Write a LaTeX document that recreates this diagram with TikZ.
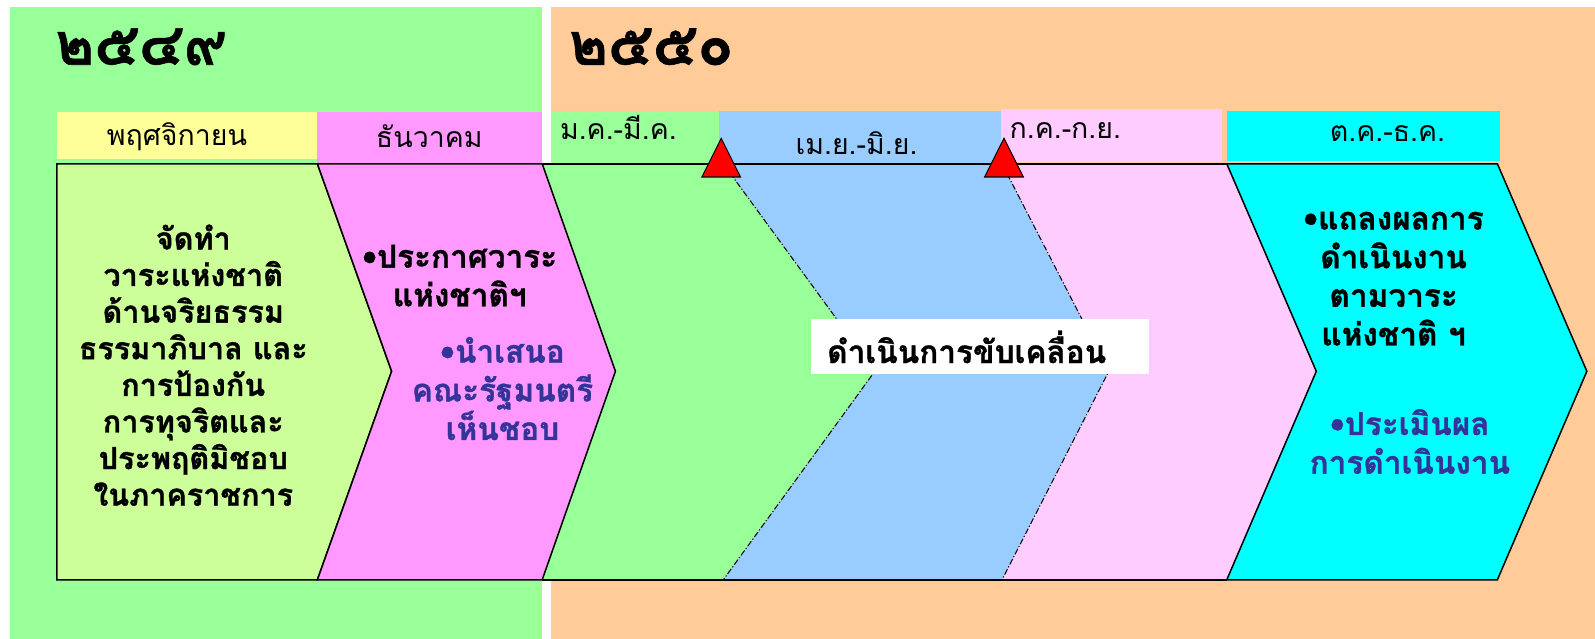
\documentclass[tikz,border=0pt]{standalone}
\usepackage{fontspec}
\usepackage{tikz}
\newfontfamily\thaifont[Script=Thai,BoldFeatures={FakeBold=1}]{Loma}
\definecolor{bggreen}{HTML}{99FF99}
\definecolor{bgorange}{HTML}{FFCC99}
\definecolor{hyellow}{HTML}{FFFF99}
\definecolor{zlime}{HTML}{CCFF99}
\definecolor{hpink}{HTML}{FF99FF}
\definecolor{hblue}{HTML}{99CCFF}
\definecolor{hlpink}{HTML}{FFCCFF}
\definecolor{hcyan}{HTML}{00FFFF}
\definecolor{txtblue}{HTML}{333399}

\begin{document}
\begin{tikzpicture}[x=1pt,y=-1pt,
    year/.style={font=\thaifont\bfseries\fontsize{58}{60}\selectfont},
    month/.style={font=\thaifont\fontsize{28}{30}\selectfont},
    bodytext/.style={font=\thaifont\bfseries\fontsize{31}{38}\selectfont,align=center},
    bluetext/.style={bodytext,text=txtblue},
    border/.style={draw=black,line width=1.5pt},
    divide/.style={draw=black,line width=1pt,dash pattern=on 6pt off 2pt on 1.2pt off 2pt},
    marker/.style={fill=red,draw=black,line width=1pt,line join=miter}]
    \useasboundingbox (0,0) rectangle (1568,628);
    \fill[bggreen] (10,7) rectangle (533,628);
    \fill[bgorange] (542,7) rectangle (1568,628);
    \draw (51,46) node[year,anchor=west](y2549) {๒๕๔๙};
    \draw (556,46) node[year,anchor=west](y2550) {๒๕๕๐};
    \fill[hyellow] (56,110) rectangle (312,156);
    \fill[hpink] (312,110) rectangle (533,161);
    \fill[bggreen] (543,109) rectangle (707,161);
    \fill[hblue] (707,109) rectangle (984,161);
    \fill[hlpink] (984,107) rectangle (1201,159);
    \fill[hcyan] (1206,109) rectangle (1475,158);
    \draw (174,134) node[month](nov) {พฤศจิกายน};
    \draw (422,134) node[month](dec) {ธันวาคม};
    \draw (547,125) node[month,anchor=west](q1) {ม.ค.-มี.ค.};
    \draw (842,141) node[month](q2) {เม.ย.-มิ.ย.};
    \draw (989,128) node[month,anchor=west](q3) {ก.ค.-ก.ย.};
    \draw (1364,131) node[month](q4) {ต.ค.-ธ.ค.};
    \fill[bggreen] (533,161) -- (711,161) -- (860,365) -- (711,570) -- (533,570) -- (605,365) -- cycle;
    \fill[hblue] (711,161) -- (985,161) -- (1090,365) -- (985,570) -- (711,570) -- (860,365) -- cycle;
    \fill[hlpink] (985,161) -- (1206,161) -- (1294,365) -- (1206,570) -- (985,570) -- (1090,365) -- cycle;
    \draw[divide] (711,161) -- (860,365) -- (711,570);
    \draw[divide] (985,161) -- (1090,365) -- (985,570);
    \draw[border,fill=zlime] (56,161) -- (312,161) -- (385,365) -- (312,570) -- (56,570) -- cycle;
    \draw[border,fill=hpink] (312,161) -- (533,161) -- (605,365) -- (533,570) -- (312,570) -- (385,365) -- cycle;
    \draw[border,fill=hcyan] (1206,161) -- (1472,161) -- (1560,365) -- (1472,570) -- (1206,570) -- (1294,365) -- cycle;
    \draw[border] (533,161) -- (1206,161);
    \draw[border] (533,570) -- (1206,570);
    \draw[marker] (690,174) -- (709,136) -- (728,174) -- cycle;
    \draw[marker] (968,174) -- (987,136) -- (1006,174) -- cycle;
    \draw (190,359) node[bodytext,font=\thaifont\bfseries\fontsize{30}{36}\selectfont](plan) {จัดทำ\\วาระแห่งชาติ\\ด้านจริยธรรม\\ธรรมาภิบาล และ\\การป้องกัน\\การทุจริตและ\\ประพฤติมิชอบ\\ในภาคราชการ};
    \draw (452,271) node[bodytext](announce) {•ประกาศวาระ\\แห่งชาติฯ};
    \draw (494,382) node[bluetext](propose) {•นำเสนอ\\คณะรัฐมนตรี\\เห็นชอบ};
    \draw (797,341) node[bodytext,anchor=west,align=left,fill=white,text width=300pt,inner xsep=16pt,minimum height=54pt](drive) {ดำเนินการขับเคลื่อน};
    \draw (1370,274) node[bodytext](report) {•แถลงผลการ\\ดำเนินงาน\\ตามวาระ\\แห่งชาติ ฯ};
    \draw (1386,434) node[bluetext](assess) {•ประเมินผล\\การดำเนินงาน};
\end{tikzpicture}
\end{document}
